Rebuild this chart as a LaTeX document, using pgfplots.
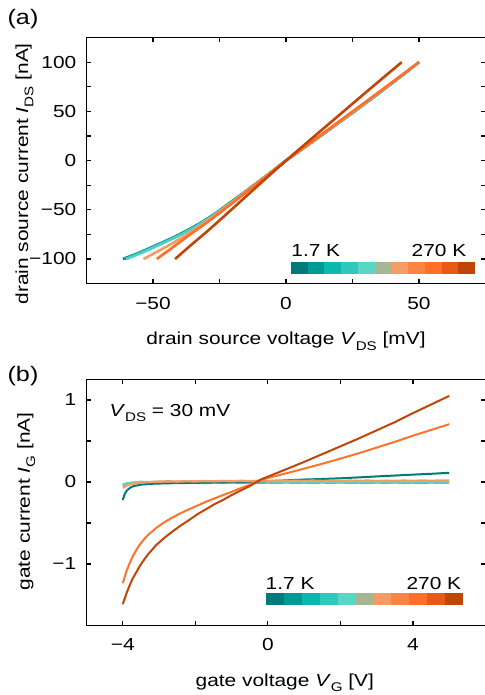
\documentclass[border=0pt]{standalone}
\usepackage{fontspec}
\setmainfont{Liberation Sans}[FakeStretch=1.2]
\usepackage{pgfplots}
\pgfplotsset{compat=1.18}

\definecolor{c1}{HTML}{007A78}
\definecolor{c2}{HTML}{009A94}
\definecolor{c3}{HTML}{0CB8AE}
\definecolor{c4}{HTML}{2EC8BC}
\definecolor{c5}{HTML}{58D6C6}
\definecolor{c6}{HTML}{A6B693}
\definecolor{c7}{HTML}{F59B66}
\definecolor{c8}{HTML}{FB8444}
\definecolor{c9}{HTML}{FF7026}
\definecolor{c10}{HTML}{E65A16}
\definecolor{c11}{HTML}{C04506}

\newcommand{\fs}{\fontsize{8.7}{10}\selectfont}
\newcommand{\sub}[1]{\raisebox{-0.3em}{\fontsize{6.3}{7}\selectfont #1}}

\pgfplotsset{
  myax/.style={
    scale only axis, width=199.5pt, height=123pt, anchor=south west,
    axis line style={line width=0.6pt},
    every tick/.style={black, line width=0.6pt},
    tick align=inside, major tick length=2.2pt, minor tick length=2.2pt,
    minor x tick num=1, minor y tick num=1,
    tick label style={font=\fs},
    label style={font=\fs},
    xticklabel style={yshift=-3.1pt},
    yticklabel style={xshift=-1.6pt},
  }
}

\begin{document}
\begin{tikzpicture}[font=\fs]
\useasboundingbox (0,0) rectangle (242pt,347.5pt);

\node[font=\fontsize{10.5}{12}\selectfont] at (11.5pt,338pt) {(a)};
\node[font=\fontsize{10.5}{12}\selectfont] at (11.5pt,159.3pt) {(b)};

% ---------------- panel (a)
\begin{axis}[myax, at={(43.25pt,205.7pt)},
  xmin=-75, xmax=75, ymin=-125, ymax=125,
  xtick={-50,0,50}, xticklabels={−50,0,50},
  ytick={-100,-50,0,50,100}, yticklabels={−100,−50,0,50,100},
  xlabel={drain source voltage \textit{V}\sub{DS} [mV]},
  ylabel={drain source current \textit{I}\sub{DS} [nA]},
  xlabel style={at={(axis description cs:0.5,-0.2496)}, anchor=base},
  ylabel style={at={(axis description cs:-0.146,0.446)}, anchor=base},
]
\addplot[c1, line width=1.3pt] coordinates {(-61.3,-100)(-55.5,-94)(-50.5,-88)(-45.5,-82)(-41.5,-77)(-36.5,-70)(-31.3,-62)(-26.2,-53)(-21.2,-43)(-16.1,-33)(-10.2,-21)(-5.1,-10.5)(0,0)(5,9.6)(10,19.2)(15,28.9)(20,38.6)(25,48.4)(30,58.4)(35,68.5)(40,78.8)(45,89.3)(50,100)};
\addplot[c3, line width=1.3pt] coordinates {(-60.7,-100)(-55,-94)(-50,-88)(-45,-82)(-41,-77)(-36,-70)(-31,-62)(-26,-53)(-21,-43)(-16,-33)(-10,-21)(-5,-10.5)(0,0)(5,9.7)(10,19.3)(15,29)(20,38.8)(25,48.5)(30,58.5)(35,68.6)(40,78.9)(45,89.4)(50,100)};
\addplot[c5!70!c4, line width=1.3pt] coordinates {(-60,-100)(-54.5,-94)(-49.6,-88)(-44.7,-82)(-40.7,-77)(-35.8,-70)(-30.8,-62)(-25.8,-53)(-20.8,-43)(-15.9,-33)(-9.9,-21)(-5,-10.5)(0,0)(5,9.7)(10,19.4)(15,29.1)(20,38.9)(25,48.6)(30,58.6)(35,68.7)(40,79)(45,89.5)(50.2,100)};
\addplot[c7, line width=1.3pt] coordinates {(-53.6,-100)(-48,-92)(-43,-84.5)(-38,-76.5)(-34,-69.5)(-30,-62)(-25,-52)(-20,-41.8)(-15,-31.3)(-10,-20.8)(-5,-10.4)(0,0)(10,19.5)(20,39.2)(30,59)(40,79.2)(50,100)};
\addplot[c9, line width=1.3pt] coordinates {(-48.6,-100)(-44,-91)(-40,-83)(-35,-73)(-30,-63.5)(-25,-53.3)(-21,-45)(-15,-32.2)(-10,-21.5)(-5,-10.8)(0,0)(10,19.9)(20,39.9)(30,59.8)(40,79.8)(50,100)};
\addplot[c11, line width=1.3pt] coordinates {(-41.7,-100)(-36,-86.5)(-30,-72.8)(-25,-60.8)(-20,-48.6)(-15,-36.3)(-10,-24.1)(-5,-12)(0,0)(5,11.6)(10,23.2)(15,34.7)(20,46.2)(25,57.8)(30,69.3)(35,80.7)(43.5,100)};
% colour bar
\fill[c1]  (axis cs:1.88,-102.7)  rectangle (axis cs:8.17,-115);
\fill[c2]  (axis cs:8.17,-102.7)  rectangle (axis cs:14.46,-115);
\fill[c3]  (axis cs:14.46,-102.7) rectangle (axis cs:20.74,-115);
\fill[c4]  (axis cs:20.74,-102.7) rectangle (axis cs:27.03,-115);
\fill[c5]  (axis cs:27.03,-102.7) rectangle (axis cs:33.32,-115);
\fill[c6]  (axis cs:33.32,-102.7) rectangle (axis cs:39.61,-115);
\fill[c7]  (axis cs:39.61,-102.7) rectangle (axis cs:45.90,-115);
\fill[c8]  (axis cs:45.90,-102.7) rectangle (axis cs:52.18,-115);
\fill[c9]  (axis cs:52.18,-102.7) rectangle (axis cs:58.47,-115);
\fill[c10] (axis cs:58.47,-102.7) rectangle (axis cs:64.76,-115);
\fill[c11] (axis cs:64.76,-102.7) rectangle (axis cs:71.05,-115);
\node[anchor=base west, inner sep=0pt] at (axis cs:1.88,-97.7) {1.7 K};
\node[anchor=base east, inner sep=0pt] at (axis cs:67.9,-97.7) {270 K};
\end{axis}

% ---------------- panel (b)
\begin{axis}[myax, at={(43.25pt,34.75pt)},
  xmin=-5, xmax=6, ymin=-1.75, ymax=1.25,
  xtick={-4,0,4}, xticklabels={−4,0,4},
  ytick={-1,0,1}, yticklabels={−1,0,1},
  xlabel={gate voltage \textit{V}\sub{G} [V]},
  ylabel={gate current \textit{I}\sub{G} [nA]},
  xlabel style={at={(axis description cs:0.497,-0.249)}, anchor=base},
  ylabel style={at={(axis description cs:-0.142,0.504)}, anchor=base},
]
\addplot[c4, line width=1.2pt] coordinates {(-4,-0.04)(-3.9,-0.025)(-3.75,-0.015)(-3.5,-0.008)(-3.25,-0.012)(-3,-0.006)(-2.75,-0.01)(-2.5,-0.004)(-2.25,-0.011)(-2,-0.006)(-1.75,-0.012)(-1.5,-0.005)(-1.25,-0.01)(-1,-0.004)(-0.75,-0.011)(-0.5,-0.006)(-0.25,-0.012)(0,-0.005)(0.25,-0.011)(0.5,-0.004)(0.75,-0.01)(1,-0.006)(1.25,-0.012)(1.5,-0.005)(1.75,-0.01)(2,-0.004)(2.25,-0.011)(2.5,-0.006)(2.75,-0.012)(3,-0.005)(3.25,-0.01)(3.5,-0.004)(3.75,-0.011)(4,-0.006)(4.25,-0.012)(4.5,-0.005)(4.75,-0.01)(5,-0.006)};
\addplot[c5, line width=1.2pt] coordinates {(-4,-0.03)(-3.9,-0.018)(-3.75,-0.008)(-3.5,0.002)(-3.25,-0.004)(-3,0.003)(-2.75,-0.003)(-2.5,0.004)(-2.25,-0.002)(-2,0.003)(-1.75,-0.004)(-1.5,0.002)(-1.25,-0.003)(-1,0.004)(-0.75,-0.002)(-0.5,0.003)(-0.25,-0.004)(0,0.002)(0.25,-0.003)(0.5,0.003)(0.75,-0.004)(1,0.002)(1.25,-0.003)(1.5,0.004)(1.75,-0.002)(2,0.003)(2.25,-0.004)(2.5,0.002)(2.75,-0.003)(3,0.003)(3.25,-0.004)(3.5,0.002)(3.75,-0.003)(4,0.004)(4.25,-0.002)(4.5,0.003)(4.75,-0.004)(5,0.0)};
\addplot[c1, line width=1pt] coordinates {(-4,-0.22)(-3.95,-0.15)(-3.9,-0.11)(-3.8,-0.07)(-3.7,-0.05)(-3.5,-0.032)(-3.2,-0.022)(-2.8,-0.016)(-2.5,-0.014)(-2,-0.01)(-1.5,-0.006)(-1,-0.003)(-0.5,0.002)(0,0.01)(0.5,0.02)(1,0.03)(1.5,0.037)(2,0.045)(2.5,0.056)(3,0.068)(3.5,0.079)(4,0.09)(4.5,0.1)(5,0.112)};
\addplot[c7, line width=1.2pt] coordinates {(-4,-0.07)(-3.9,-0.045)(-3.8,-0.028)(-3.6,-0.012)(-3.4,-0.004)(-3.2,0.0)(-3,0.004)(-2.75,0.008)(-2.5,0.005)(-2.25,0.01)(-2,0.007)(-1.75,0.012)(-1.5,0.008)(-1.25,0.013)(-1,0.009)(-0.75,0.014)(-0.5,0.01)(-0.25,0.015)(0,0.011)(0.25,0.016)(0.5,0.012)(0.75,0.016)(1,0.012)(1.25,0.017)(1.5,0.012)(1.75,0.016)(2,0.012)(2.25,0.017)(2.5,0.013)(2.75,0.017)(3,0.012)(3.25,0.016)(3.5,0.013)(3.75,0.017)(4,0.013)(4.25,0.018)(4.5,0.014)(4.75,0.018)(5,0.016)};
\addplot[c9!85!c8, line width=1pt] coordinates {(-4,-1.235)(-3.9,-1.09)(-3.8,-0.98)(-3.73,-0.91)(-3.6,-0.81)(-3.54,-0.77)(-3.4,-0.69)(-3.3,-0.645)(-3.08,-0.56)(-2.85,-0.49)(-2.62,-0.43)(-2.4,-0.38)(-2.16,-0.33)(-1.93,-0.285)(-1.7,-0.24)(-1.47,-0.2)(-1.24,-0.16)(-1,-0.12)(-0.78,-0.08)(-0.5,-0.035)(-0.2,0.02)(0,0.05)(0.5,0.105)(1,0.163)(1.5,0.223)(2,0.285)(2.5,0.35)(3,0.42)(3.5,0.49)(4,0.565)(4.5,0.635)(5,0.705)};
\addplot[c11, line width=1pt] coordinates {(-4,-1.49)(-3.9,-1.36)(-3.8,-1.25)(-3.73,-1.18)(-3.6,-1.08)(-3.54,-1.03)(-3.4,-0.94)(-3.3,-0.88)(-3.08,-0.77)(-2.85,-0.68)(-2.62,-0.6)(-2.4,-0.53)(-2.16,-0.46)(-1.93,-0.39)(-1.7,-0.33)(-1.47,-0.27)(-1.24,-0.22)(-1,-0.16)(-0.78,-0.11)(-0.5,-0.05)(-0.2,0.03)(0,0.065)(0.5,0.155)(1,0.245)(1.5,0.34)(2,0.435)(2.5,0.53)(3,0.63)(3.5,0.73)(4,0.84)(4.5,0.945)(5,1.05)};
\node[anchor=base west, inner sep=0pt] at (axis cs:-4.373,0.796) {\textit{V}\sub{DS} = 30 mV};
% colour bar
\fill[c1]  (axis cs:-0.044,-1.357) rectangle (axis cs:0.448,-1.5);
\fill[c2]  (axis cs:0.448,-1.357)  rectangle (axis cs:0.940,-1.5);
\fill[c3]  (axis cs:0.940,-1.357)  rectangle (axis cs:1.433,-1.5);
\fill[c4]  (axis cs:1.433,-1.357)  rectangle (axis cs:1.925,-1.5);
\fill[c5]  (axis cs:1.925,-1.357)  rectangle (axis cs:2.417,-1.5);
\fill[c6]  (axis cs:2.417,-1.357)  rectangle (axis cs:2.909,-1.5);
\fill[c7]  (axis cs:2.909,-1.357)  rectangle (axis cs:3.401,-1.5);
\fill[c8]  (axis cs:3.401,-1.357)  rectangle (axis cs:3.894,-1.5);
\fill[c9]  (axis cs:3.894,-1.357)  rectangle (axis cs:4.386,-1.5);
\fill[c10] (axis cs:4.386,-1.357)  rectangle (axis cs:4.878,-1.5);
\fill[c11] (axis cs:4.878,-1.357)  rectangle (axis cs:5.370,-1.5);
\node[anchor=base west, inner sep=0pt] at (axis cs:-0.07,-1.309) {1.7 K};
\node[anchor=base east, inner sep=0pt] at (axis cs:5.34,-1.309) {270 K};
\end{axis}
\end{tikzpicture}
\end{document}
